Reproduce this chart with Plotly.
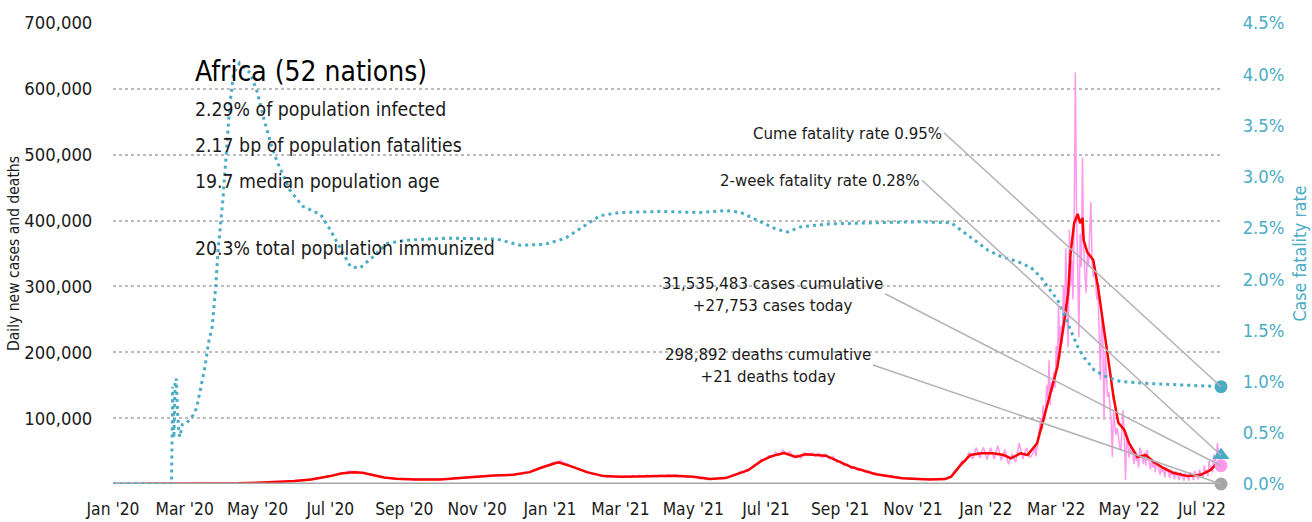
import pandas as pd
import plotly.graph_objects as go

FONT = "DejaVu Sans Condensed, Liberation Sans Narrow, Arial Narrow, sans-serif"
TEAL = "#4bacc6"
PINK = "#ff99ee"
RED = "#ff0000"
GREY = "#a6a6a6"
INK = "#1a1a1a"

# Daily new cases, sampled every third day from 2020-03-01 to 2022-02-07
early_cases_start = "2020-03-01"
early_cases = [
    # Mar - Jun 2020
    0, 0, 0, 100, 200, 200, 300, 300, 400, 500, 600, 600, 700, 800, 900, 1000,
    1200, 1300, 1400, 1600, 1800, 1900, 2200, 2400, 2500, 2800, 3000, 3400, 3700,
    4000, 4300, 4700, 5300, 5800, 6500, 7200, 7600, 8800, 9500, 10800, 11500,
    # Jul - Sep 2020
    12800, 14500, 15200, 17500, 17000, 19500, 18200, 19000, 16800, 17500, 15200,
    15000, 12600, 11800, 10900, 9200, 9600, 8100, 8500, 7400, 7600, 6800, 7500,
    6600, 7200, 6500, 7400, 6600, 7300, 6700,
    # Oct - Dec 2020
    7400, 6800, 8000, 7600, 9300, 8400, 10200, 9100, 10500, 10000, 11600, 10600,
    12000, 11500, 13200, 12400, 13800, 12600, 14600, 13200, 15000, 13800, 16000,
    15200, 18200, 17000, 20500, 21000, 24800, 24000, 28500,
    # Jan - Mar 2021
    30000, 33500, 32000, 35500, 31500, 30500, 27000, 25500, 22000, 21500, 18000,
    17500, 14500, 14800, 12200, 12800, 10800, 12000, 10500, 12300, 10200, 12600,
    10400, 13000, 10600, 13400, 10800, 13500, 11000, 13600, 11200,
    # Apr - Jun 2021
    14000, 11000, 14200, 11400, 13800, 10800, 13000, 10000, 12200, 9400, 10500,
    7600, 9000, 6600, 8400, 7200, 9500, 8000, 10200, 9600, 13000, 14000, 18500,
    17000, 22500, 23000, 29000, 30000, 37000, 36500, 43000,
    # Jul - Sep 2021
    41000, 48000, 44000, 51500, 46000, 49000, 40000, 44500, 39000, 48000, 43000,
    47500, 42000, 46500, 40000, 45500, 38000, 42000, 33000, 35500, 27500, 30000,
    23500, 26500, 20500, 23000, 17500, 19500, 14800, 16500, 12800,
    # Oct - Dec 2021
    14000, 11500, 12800, 10000, 11000, 8400, 9800, 7600, 8800, 6800, 8200, 6400,
    8000, 6500, 8200, 6600, 8500, 7000, 10500, 12000, 20000, 25000, 35000, 34000,
    48000, 38000, 55000, 40000, 56000, 37000, 55000,
    # Jan - early Feb 2022
    38000, 58000, 36000, 52000, 30000, 46000, 33000, 62000, 38000, 55000, 40000,
]

# Daily new cases, every day from 2022-02-10 to 2022-07-16
late_cases_start = "2022-02-10"
late_cases = [
    # Feb 10 - Feb 28
    48000, 60000, 42000, 55000, 70000, 85000, 100000, 82000, 120000, 95000,
    110000, 150000, 130000, 188000, 120000, 155000, 140000, 170000, 146000,
    # Mar
    210000, 175000, 272000, 190000, 240000, 215000, 300000, 250000, 358000, 260000,
    208000, 386000, 300000, 340000, 280000, 390000, 625000, 420000, 300000, 223000,
    380000, 330000, 495000, 360000, 320000, 290000, 350000, 330000, 380000, 428000,
    340000,
    # Apr
    314000, 330000, 295000, 280000, 295000, 240000, 158000, 260000, 230000, 97000,
    200000, 170000, 132000, 140000, 120000, 95000, 41000, 110000, 90000, 75000,
    85000, 70000, 60000, 50000, 80000, 112000, 75000, 6000, 70000, 60000,
    # May
    40000, 56000, 45000, 50000, 30000, 48000, 35000, 40000, 25000, 55000,
    50000, 42000, 30000, 48000, 28000, 52000, 40000, 35000, 22000, 38000,
    25000, 32000, 18000, 34000, 28000, 24000, 14000, 28000, 18000, 22000,
    10000,
    # Jun
    26000, 20000, 18000, 9000, 22000, 14000, 16000, 7000, 20000, 13000,
    12000, 6000, 18000, 12000, 11000, 5000, 17000, 12000, 10000, 5000,
    18000, 13000, 11000, 6000, 20000, 14000, 12000, 7000, 22000, 16000,
    # Jul 1 - Jul 16
    14000, 9000, 28000, 20000, 18000, 12000, 35000, 26000, 22000, 18000,
    45000, 34000, 40000, 62000, 45000, 38000,
]

daily_dates = (list(pd.date_range(early_cases_start, periods=len(early_cases), freq="3D"))
               + list(pd.date_range(late_cases_start, periods=len(late_cases), freq="D")))
daily_cases = early_cases + late_cases

# Seven-day average of new cases
avg_dates = [
    "2020-01-01", "2020-02-16", "2020-03-15", "2020-04-01", "2020-04-15", "2020-05-01",
    "2020-05-15", "2020-06-01", "2020-06-15", "2020-07-01", "2020-07-10", "2020-07-20",
    "2020-07-28", "2020-08-05", "2020-08-15", "2020-08-25", "2020-09-10", "2020-10-01",
    "2020-10-15", "2020-11-01", "2020-11-15", "2020-12-01", "2020-12-15", "2020-12-25",
    "2021-01-08", "2021-01-20", "2021-02-01", "2021-02-15", "2021-03-01", "2021-03-15",
    "2021-04-01", "2021-04-15", "2021-05-01", "2021-05-15", "2021-05-28", "2021-06-09",
    "2021-06-16", "2021-06-27", "2021-07-05", "2021-07-16", "2021-07-26", "2021-08-03",
    "2021-08-20", "2021-09-10", "2021-10-01", "2021-10-23", "2021-11-15", "2021-11-28",
    "2021-12-03", "2021-12-11", "2021-12-19", "2021-12-28", "2022-01-07", "2022-01-16",
    "2022-01-22", "2022-01-30", "2022-02-05", "2022-02-13", "2022-02-18", "2022-02-24",
    "2022-03-02", "2022-03-07", "2022-03-11", "2022-03-13", "2022-03-16", "2022-03-19",
    "2022-03-21", "2022-03-23", "2022-03-24", "2022-03-27", "2022-04-01", "2022-04-05",
    "2022-04-10", "2022-04-14", "2022-04-18", "2022-04-22", "2022-04-27", "2022-05-01",
    "2022-05-08", "2022-05-15", "2022-05-22", "2022-05-30", "2022-06-07", "2022-06-19",
    "2022-06-30", "2022-07-08", "2022-07-14", "2022-07-17",
]
avg_cases = [
    0, 0, 200, 600, 1000, 1800,
    2700, 4500, 7000, 12000, 16000, 18000,
    17000, 14000, 10000, 8000, 7000, 7000,
    9000, 11000, 13000, 14000, 18000, 25000,
    33000, 26000, 18000, 12000, 11000, 11500,
    12000, 12500, 11000, 7500, 9000, 16000,
    21000, 35000, 42000, 47000, 41000, 45000,
    43000, 26000, 14700, 8600, 7000, 7500,
    11000, 29000, 44000, 46600, 46600, 44000,
    39000, 46600, 44000, 62000, 97000, 138000,
    178000, 238000, 290000, 350000, 396000, 410000,
    396000, 404000, 370000, 352000, 340000, 299000,
    238000, 184000, 132000, 93000, 82000, 62000,
    41000, 44000, 33000, 24000, 17000, 12000,
    14000, 21000, 32000, 36000,
]

# Seven-day average of new deaths
death_dates = [
    "2020-01-01", "2020-03-01", "2020-04-15", "2020-06-01", "2020-07-20", "2020-09-15",
    "2020-12-01", "2021-01-15", "2021-03-01", "2021-05-15", "2021-07-20", "2021-09-15",
    "2021-11-15", "2022-01-15", "2022-03-20", "2022-05-15", "2022-07-17",
]
death_vals = [0, 0, 40, 120, 400, 200, 300, 900, 350, 250, 1100, 600, 150, 300, 400, 60, 21]

# Case fatality rate (%)
cfr_dates = [
    "2020-01-01", "2020-02-19", "2020-02-20", "2020-02-21", "2020-02-22", "2020-02-23",
    "2020-02-24", "2020-02-25", "2020-02-26", "2020-02-28", "2020-03-03", "2020-03-08",
    "2020-03-11", "2020-03-14", "2020-03-18", "2020-03-21", "2020-03-24", "2020-03-27",
    "2020-03-29", "2020-04-02", "2020-04-05", "2020-04-08", "2020-04-11", "2020-04-16",
    "2020-04-25", "2020-05-01", "2020-05-06", "2020-05-12", "2020-05-17", "2020-05-28",
    "2020-06-08", "2020-06-15", "2020-06-23", "2020-07-01", "2020-07-09", "2020-07-18",
    "2020-07-26", "2020-08-06", "2020-08-18", "2020-09-03", "2020-10-07", "2020-11-18",
    "2020-12-07", "2020-12-28", "2021-01-14", "2021-01-31", "2021-02-12", "2021-03-01",
    "2021-04-03", "2021-05-07", "2021-05-28", "2021-06-10", "2021-06-26", "2021-07-09",
    "2021-07-19", "2021-07-30", "2021-08-24", "2021-09-27", "2021-11-07", "2021-12-03",
    "2021-12-11", "2021-12-22", "2022-01-03", "2022-01-14", "2022-01-28", "2022-02-08",
    "2022-02-16", "2022-02-24", "2022-03-02", "2022-03-07", "2022-03-13", "2022-03-19",
    "2022-03-24", "2022-04-02", "2022-04-13", "2022-04-24", "2022-05-19", "2022-06-30",
    "2022-07-17",
]
cfr_vals = [
    0.0, 0.0, 0.95, 0.45, 0.98, 1.03,
    0.72, 0.52, 0.46, 0.58, 0.60, 0.67,
    0.74, 0.92, 1.14, 1.38, 1.53, 1.92,
    2.28, 2.77, 3.22, 3.72, 4.01, 4.11,
    4.01, 3.82, 3.58, 3.33, 3.16, 2.87,
    2.71, 2.67, 2.63, 2.48, 2.31, 2.12,
    2.11, 2.22, 2.35, 2.38, 2.40, 2.39,
    2.33, 2.34, 2.40, 2.53, 2.62, 2.65,
    2.66, 2.65, 2.67, 2.65, 2.56, 2.49,
    2.46, 2.51, 2.54, 2.55, 2.56, 2.55,
    2.48, 2.38, 2.28, 2.22, 2.17, 2.11,
    2.02, 1.89, 1.80, 1.67, 1.50, 1.34,
    1.24, 1.11, 1.04, 1.00, 0.98, 0.96,
    0.95,
]

# Latest figures
last_date = "2022-07-17"
cases_today = 27753
deaths_today = 21
cases_cumulative = 31535483
deaths_cumulative = 298892
cume_cfr = 0.95
two_week_cfr = 0.28

left_ticks = [100000, 200000, 300000, 400000, 500000, 600000, 700000]

summary_title = "Africa (52 nations)"
summary_lines = [
    "2.29% of population infected",
    "2.17 bp of population fatalities",
    "19.7 median population age",
    "20.3% total population immunized",
]

fig = go.Figure()

fig.add_trace(go.Scatter(x=daily_dates, y=daily_cases, mode="lines",
                         line=dict(color=PINK, width=1.5), cliponaxis=False,
                         hoverinfo="skip"))
fig.add_trace(go.Scatter(x=avg_dates, y=avg_cases, mode="lines",
                         line=dict(color=RED, width=2.5), cliponaxis=False,
                         hoverinfo="skip"))
fig.add_trace(go.Scatter(x=death_dates, y=death_vals, mode="lines",
                         line=dict(color=GREY, width=3), cliponaxis=False,
                         hoverinfo="skip"))
fig.add_trace(go.Scatter(x=cfr_dates, y=cfr_vals, mode="lines", yaxis="y2",
                         line=dict(color=TEAL, width=3, dash="3px,4px"),
                         cliponaxis=False, hoverinfo="skip"))

# End-of-series markers
fig.add_trace(go.Scatter(x=[last_date], y=[cases_today], mode="markers",
                         marker=dict(color=PINK, size=13), cliponaxis=False))
fig.add_trace(go.Scatter(x=[last_date], y=[deaths_today], mode="markers",
                         marker=dict(color=GREY, size=13), cliponaxis=False))
fig.add_trace(go.Scatter(x=[last_date], y=[cume_cfr], mode="markers", yaxis="y2",
                         marker=dict(color=TEAL, size=13), cliponaxis=False))
fig.add_trace(go.Scatter(x=[last_date], y=[two_week_cfr], mode="markers", yaxis="y2",
                         marker=dict(color=TEAL, size=15, symbol="triangle-up"),
                         cliponaxis=False))

annotations = []

# Summary block
annotations.append(dict(text=summary_title, xref="paper", yref="paper",
                        x=0.072, y=0.894, xanchor="left", yanchor="middle",
                        showarrow=False, font=dict(family=FONT, size=28, color="#000")))
for txt, yy in zip(summary_lines, [0.813, 0.735, 0.657, 0.510]):
    annotations.append(dict(text=txt, xref="paper", yref="paper",
                            x=0.072, y=yy, xanchor="left", yanchor="middle",
                            showarrow=False, font=dict(family=FONT, size=19.3, color=INK)))

# Callouts pointing at the latest values
callout_style = dict(showarrow=True, arrowhead=0, arrowwidth=1.5, arrowcolor="#b3b3b3",
                     standoff=0, startstandoff=0, font=dict(family=FONT, size=16.7, color=INK),
                     xanchor="right", yanchor="middle", align="center")
annotations.append(dict(x=last_date, y=cume_cfr, xref="x", yref="y2",
                        text=f"Cume fatality rate {cume_cfr:.2f}%",
                        ax=-277, ay=-254, **callout_style))
annotations.append(dict(x=last_date, y=two_week_cfr, xref="x", yref="y2",
                        text=f"2-week fatality rate {two_week_cfr:.2f}%",
                        ax=-299, ay=-275, **callout_style))
annotations.append(dict(x=last_date, y=cases_today, xref="x", yref="y",
                        text=f"{cases_cumulative:,} cases cumulative<br>+{cases_today:,} cases today",
                        ax=-336, ay=-172, **callout_style))
annotations.append(dict(x=last_date, y=deaths_today, xref="x", yref="y",
                        text=f"{deaths_cumulative:,} deaths cumulative<br>+{deaths_today:,} deaths today",
                        ax=-348, ay=-119, **callout_style))

fig.update_layout(
    width=1312, height=522, autosize=False,
    margin=dict(l=113, r=91, t=23, b=38),
    paper_bgcolor="white", plot_bgcolor="white",
    showlegend=False,
    font=dict(family=FONT, color=INK),
    annotations=annotations,
    xaxis=dict(type="date", range=["2020-01-01", last_date], automargin=False,
               tick0="2020-01-01", dtick="M2", tickformat="%b '%y",
               showgrid=False, zeroline=False, showline=False,
               ticks="outside", ticklen=9, tickcolor="rgba(0,0,0,0)",
               tickfont=dict(family=FONT, size=17.3, color=INK)),
    yaxis=dict(range=[0, 700000], tickvals=left_ticks, tickformat=",", automargin=False,
               showgrid=True, gridcolor="#bdbdbd", griddash="dot", gridwidth=1.5,
               zeroline=False, showline=False,
               ticks="outside", ticklen=16, tickcolor="rgba(0,0,0,0)",
               tickfont=dict(family=FONT, size=18.3, color=INK),
               title=dict(text="Daily new cases and deaths", standoff=0,
                          font=dict(family=FONT, size=15.5, color=INK))),
    yaxis2=dict(range=[0, 4.5], overlaying="y", side="right", automargin=False,
                tick0=0, dtick=0.5, tickformat=".1f", ticksuffix="%",
                showgrid=False, zeroline=False, showline=False,
                ticks="outside", ticklen=17, tickcolor="rgba(0,0,0,0)",
                tickfont=dict(family=FONT, size=18.3, color=TEAL),
                title=dict(text="Case fatality rate", standoff=10,
                           font=dict(family=FONT, size=17.5, color=TEAL))),
)

fig.write_html("out.html")
